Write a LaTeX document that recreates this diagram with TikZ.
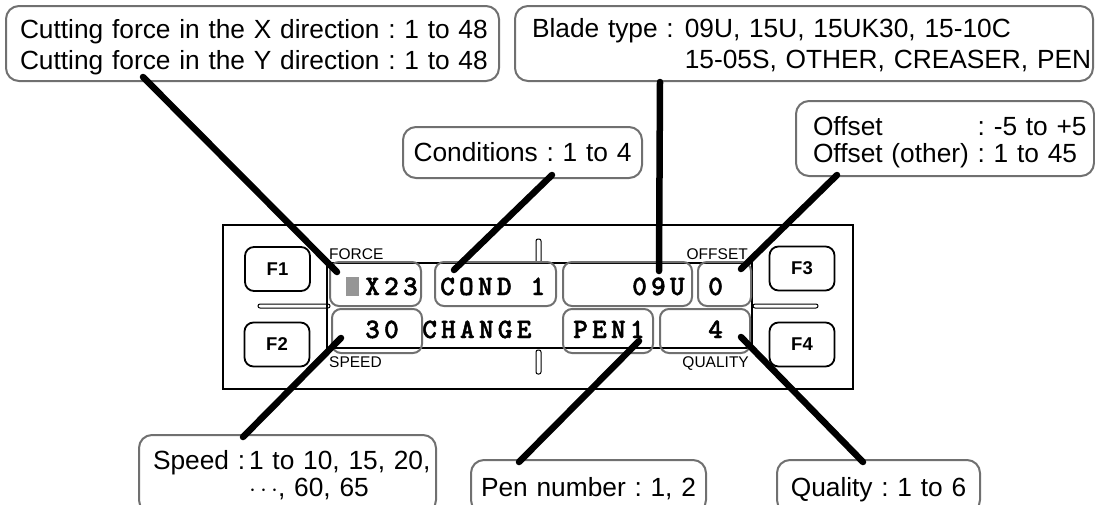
\documentclass[tikz,border=0pt]{standalone}
\usepackage{fontspec}
\setmainfont{Liberation Sans}
\newfontfamily\lcdfont{lmmonolt10-bold}[Extension=.otf,LetterSpace=15,FakeBold=1.6]
\usepackage{tikz}
\usetikzlibrary{calc}
\definecolor{rim}{RGB}{112,112,112}
\definecolor{cursor}{RGB}{150,150,150}

\begin{document}
\begin{tikzpicture}[x=1pt, y=-1pt,
  callout/.style={draw=rim, line width=2pt, rounded corners=13pt, fill=white,
    anchor=north west, inner ysep=0pt, align=left,
    font=\fontsize{26.3pt}{31pt}\selectfont\frenchspacing},
  field/.style={draw=rim, line width=2pt, rounded corners=9pt, minimum height=44pt, inner sep=0pt},
  fkey/.style={draw, line width=1.8pt, rounded corners=9pt, minimum width=65pt, minimum height=44pt,
    inner sep=0pt, font=\fontsize{18.5pt}{20pt}\selectfont\bfseries},
  lcd/.style={anchor=base west, inner sep=0pt, font=\lcdfont\fontsize{28pt}{28pt}\selectfont},
  tag/.style={inner sep=0pt, font=\fontsize{15.5pt}{16pt}\selectfont},
  pointer/.style={line width=6.5pt, line cap=round},
]
\useasboundingbox (0,0) rectangle (1095,504);

% panel and display
\draw[line width=1.8pt] (223,225) rectangle (853,389);
\draw[line width=1.8pt] (327,263) rectangle (752,348);
\draw[line width=1pt, rounded corners=2pt] (258,304) rectangle (330,308);
\draw[line width=1pt, rounded corners=2pt] (753,304) rectangle (818,308);
\draw[line width=1pt, rounded corners=2pt] (536,239) rectangle (541,263);
\draw[line width=1pt, rounded corners=2pt] (536,350) rectangle (541,374);

% function keys
\node[fkey] (f1) at (277.5,269) {F1};
\node[fkey] (f2) at (277,344.5) {F2};
\node[fkey] (f3) at (802,268.5) {F3};
\node[fkey] (f4) at (802,344.5) {F4};

% display fields
\node[field, minimum width=91pt]  (fx)     at (375.5,284) {};
\node[field, minimum width=121pt] (fcond)  at (495.5,284) {};
\node[field, minimum width=129pt] (fblade) at (627.5,284) {};
\node[field, minimum width=53pt]  (foff)   at (724.5,284) {};
\node[field, minimum width=90pt]  (fspeed) at (377,331) {};
\node[field, minimum width=90pt]  (fpen)   at (608,331) {};
\node[field, minimum width=90pt]  (fqual)  at (705,331) {};
\fill[cursor] (346,277) rectangle (359,296);

\node[lcd] (vx)     at (365,295) {X23};
\node[lcd] (vcond)  at (440,295) {COND 1};
\node[lcd] (vblade) at (632,295) {09U};
\node[lcd] (voff)   at (708,295) {0};
\node[lcd] (vspeed) at (365,338) {30};
\node[lcd] (vmode)  at (422,338) {CHANGE};
\node[lcd] (vpen)   at (573,338) {PEN1};
\node[lcd] (vqual)  at (708,338) {4};

\node[tag, anchor=base west] (tforce)   at (329,259) {FORCE};
\node[tag, anchor=base west] (tspeed)   at (329,367) {SPEED};
\node[tag, anchor=base east] (toffset)  at (748,259) {OFFSET};
\node[tag, anchor=base east] (tquality) at (749,367) {QUALITY};

% callouts
\node[callout, text width=465pt, inner xsep=14pt, text height=32pt, text depth=43pt] (force) at (5,5)
  {\mbox{Cutting force in the X direction : 1 to 48}\\\mbox{Cutting force in the Y direction : 1 to 48}};
\node[callout, text width=544pt, inner xsep=17pt, text height=31pt, text depth=44pt] (blade) at (514,5)
  {\begin{tabular}[t]{@{}l@{\hspace{11pt}}l@{}}Blade type : & 09U, 15U, 15UK30, 15-10C\\
   & 15-05S, OTHER, CREASER, PEN\end{tabular}};
\node[callout, text width=264pt, inner xsep=17pt, text height=34pt, text depth=41pt,
  font=\fontsize{26.3pt}{26.7pt}\selectfont\frenchspacing] (offset) at (795,100)
  {\begin{tabular}[t]{@{}l@{\ }l@{}}Offset & : -5 to +5\\Offset (other) & : 1 to 45\end{tabular}};
\node[callout, text width=227pt, inner xsep=6pt, align=center, text height=34pt, text depth=17pt] (cond) at (402,126)
  {\mbox{Conditions : 1 to 4}};
\node[callout, text width=269pt, inner xsep=14pt, text height=34pt, text depth=44pt,
  font=\fontsize{26.3pt}{27pt}\selectfont\frenchspacing] (speed) at (138,434)
  {\begin{tabular}[t]{@{}l@{\hspace{4pt}}l@{}}Speed : & 1 to 10, 15, 20,\\ & $\cdots$, 60, 65\end{tabular}};
\node[callout, text width=223pt, inner xsep=6pt, align=center, text height=36pt, text depth=17pt] (pen) at (470,459)
  {\mbox{Pen number : 1, 2}};
\node[callout, text width=191pt, inner xsep=6pt, align=center, text height=36pt, text depth=17pt] (qual) at (776,459)
  {\mbox{Quality : 1 to 6}};

% pointers
\draw[pointer] ($(force.south west)+(138,-5)$) -- ($(fx.north west)+(8,11)$);
\draw[pointer] ($(cond.south west)+(150,-4)$) -- ($(fcond.north west)+(20,9)$);
\draw[pointer] ($(blade.south west)+(146,0)$) -- ($(fblade.north west)+(97,10)$);
\draw[pointer] ($(offset.south west)+(42,-2)$) -- ($(foff.north west)+(44,8)$);
\draw[pointer] ($(speed.north west)+(105,3)$) -- ($(fspeed.north west)+(10,30)$);
\draw[pointer] ($(pen.north west)+(49,3)$) -- ($(fpen.north west)+(77,33)$);
\draw[pointer] ($(qual.north west)+(87,3)$) -- ($(fqual.north west)+(82,29)$);
\end{tikzpicture}
\end{document}
